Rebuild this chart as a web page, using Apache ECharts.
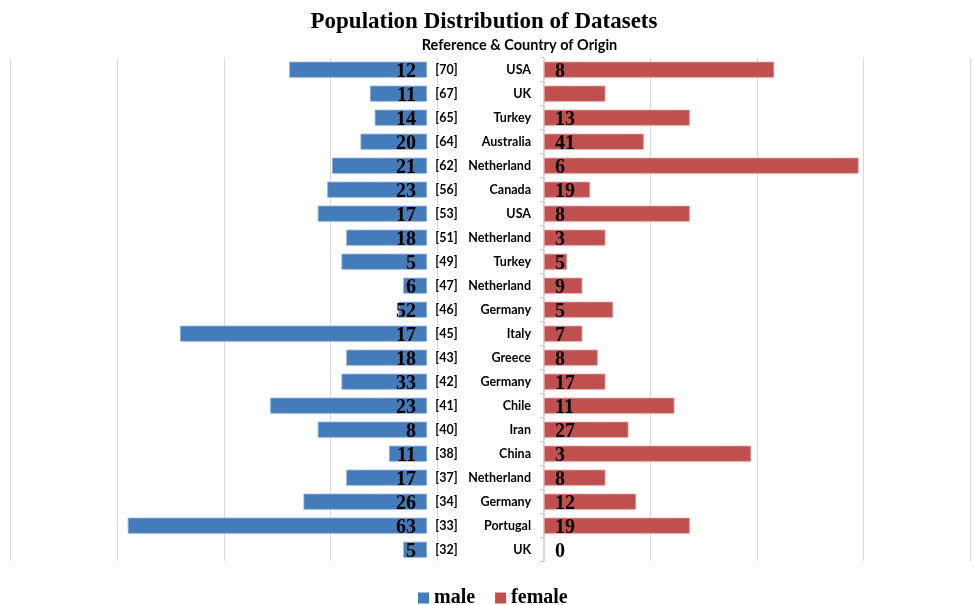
<!DOCTYPE html>
<html>
<head>
<meta charset="utf-8">
<title>Population Distribution of Datasets</title>
<script src="https://cdn.jsdelivr.net/npm/echarts@6/dist/echarts.min.js"></script>
<style>
  html, body { margin: 0; padding: 0; background: #fff; }
  #chart { width: 973px; height: 605px; }
</style>
</head>
<body>
<div id="chart"></div>
<script>
// Dataset references and their country of origin (top to bottom)
const references = ['[70]', '[67]', '[65]', '[64]', '[62]', '[56]', '[53]', '[51]', '[49]', '[47]', '[46]',
                    '[45]', '[43]', '[42]', '[41]', '[40]', '[38]', '[37]', '[34]', '[33]', '[32]'];
const countries = ['USA', 'UK', 'Turkey', 'Australia', 'Netherland', 'Canada', 'USA', 'Netherland', 'Turkey',
                   'Netherland', 'Germany', 'Italy', 'Greece', 'Germany', 'Chile', 'Iran', 'China',
                   'Netherland', 'Germany', 'Portugal', 'UK'];

// Bar lengths
const maleValues = [29, 12, 11, 14, 20, 21, 23, 17, 18, 5, 6, 52, 17, 18, 33, 23, 8, 17, 26, 63, 5];
const femaleValues = [30, 8, 19, 13, 41, 6, 19, 8, 3, 5, 9, 5, 7, 8, 17, 11, 27, 8, 12, 19, 0];

// Numbers printed on each row
const maleLabels = ['12', '11', '14', '20', '21', '23', '17', '18', '5', '6', '52', '17', '18', '33', '23',
                    '8', '11', '17', '26', '63', '5'];
const femaleLabels = ['8', '', '13', '41', '6', '19', '8', '3', '5', '9', '5', '7', '8', '17', '11', '27',
                      '3', '8', '12', '19', '0'];

const MALE_COLOR = '#437bbb';
const FEMALE_COLOR = '#c0504d';
const serifBold = { fontFamily: 'Liberation Serif', fontWeight: 'bold', color: '#000' };
const sansBold = { fontFamily: 'Lato', fontWeight: 'bold', color: '#000' };

// zero-length bars get no outline so nothing shows at the baseline
const barData = (values, edge) => values.map(v => ({
  value: v,
  itemStyle: v > 0 ? { borderColor: edge, borderWidth: 0.8 } : { borderWidth: 0 }
}));

const chart = echarts.init(document.getElementById('chart'), null, { renderer: 'canvas' });

const option = {
  animation: false,
  backgroundColor: '#fff',
  title: [
    {
      text: 'Population Distribution of Datasets',
      left: 484, top: 11, padding: 0, textAlign: 'center',
      textStyle: Object.assign({ fontSize: 23 }, serifBold)
    },
    {
      text: 'Reference & Country of Origin',
      left: 519.5, top: 38, padding: 0, textAlign: 'center',
      textStyle: Object.assign({ fontSize: 14.5 }, sansBold)
    }
  ],
  legend: {
    data: ['male', 'female'],
    left: 418, top: 588, padding: 0,
    icon: 'rect', itemWidth: 11, itemHeight: 11, itemGap: 20,
    itemStyle: { borderWidth: 0 },
    textStyle: Object.assign({ fontSize: 20 }, serifBold)
  },
  grid: [
    // background vertical gridlines across the whole plot
    { left: 10.7, top: 58, width: 959.3, height: 503 },
    // male (left side, grows leftwards)
    { left: 9, top: 57.7, width: 418, height: 504 },
    // female (right side)
    { left: 544, top: 57.7, width: 422, height: 504 }
  ],
  xAxis: [
    {
      gridIndex: 0, type: 'value', min: 0, max: 9, interval: 1,
      axisLine: { show: false }, axisTick: { show: false }, axisLabel: { show: false },
      splitLine: { show: true, lineStyle: { color: '#d9d9d9', width: 1 } }
    },
    { gridIndex: 1, type: 'value', min: 0, max: 88, inverse: true, show: false },
    { gridIndex: 2, type: 'value', min: 0, max: 55, show: false }
  ],
  yAxis: [
    { gridIndex: 0, type: 'category', data: references, show: false },
    {
      gridIndex: 1, type: 'category', data: references, inverse: true, position: 'right',
      axisLine: { show: false }, axisTick: { show: false },
      axisLabel: Object.assign({ margin: 19.5, align: 'center', fontSize: 12.5 }, sansBold)
    },
    {
      gridIndex: 2, type: 'category', data: countries, inverse: true, position: 'left',
      axisLine: { show: true, lineStyle: { color: '#d9d9d9', width: 1 } },
      axisTick: { show: true, length: 4, lineStyle: { color: '#c8c8c8' } },
      axisLabel: Object.assign({ margin: 13, fontSize: 12.5 }, sansBold)
    }
  ],
  series: [
    {
      name: 'male', type: 'bar', xAxisIndex: 1, yAxisIndex: 1,
      data: barData(maleValues, '#8fb0d8'), barWidth: 16,
      itemStyle: { color: MALE_COLOR },
      label: Object.assign({
        show: true, position: 'insideRight', distance: 11, offset: [0, 2], fontSize: 20,
        formatter: p => maleLabels[p.dataIndex]
      }, serifBold)
    },
    {
      name: 'female', type: 'bar', xAxisIndex: 2, yAxisIndex: 2,
      data: barData(femaleValues, '#e09896'), barWidth: 16,
      itemStyle: { color: FEMALE_COLOR },
      label: Object.assign({
        show: true, position: 'insideLeft', distance: 11, offset: [0, 2], fontSize: 20,
        formatter: p => femaleLabels[p.dataIndex]
      }, serifBold)
    }
  ]
};

chart.setOption(option);
</script>
</body>
</html>
